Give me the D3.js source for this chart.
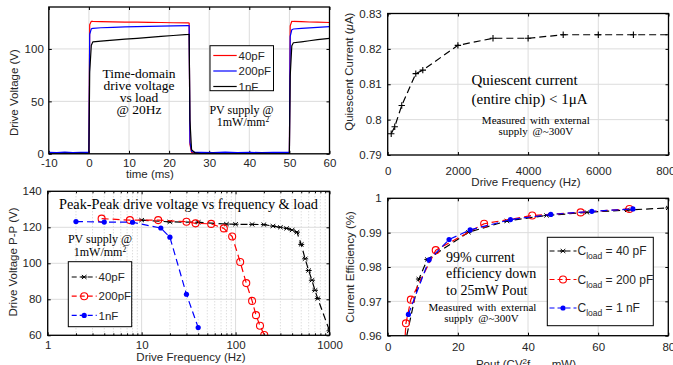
<!DOCTYPE html>
<html><head><meta charset="utf-8">
<script src="https://cdn.jsdelivr.net/npm/d3@7"></script>
<style>
body{margin:0;background:#fff;}
svg{display:block;}
</style></head><body>
<script>
// ---------- Panel 1: time-domain drive voltage ----------
const timeMs = [-10,-8,-6,-4,-2,0,0.2,0.6,1,3,6,9,12,15,18,21,24.8,25,25.2,25.6,26.5,28,31,34,37,40,43,46,49.8,50,50.2,50.6,51,53,55,57,60];
const v40pF  = [0.8,0.5,1.1,0.6,0.9,0.8,123,126.3,126.2,126,125.8,125.6,125.5,125.3,125.2,125,124.8,124.7,9,1.3,0.5,0.7,0.3,0.8,0.5,0.6,0.4,0.7,0.6,0.7,122,126.4,126.2,126,125.7,125.5,125.2];
const v200pF = [1.4,1.1,1.6,1.2,1.5,1.4,114,119.2,119.7,120.2,120.6,121,121.3,121.6,121.8,122,122.2,122.2,11,2.2,1.3,1.5,1.1,1.6,1.2,1.4,1.1,1.5,1.3,1.4,112,118.3,119,119.6,120.1,120.6,121.2];
const v1nF   = [0.3,0,0.5,0.2,0.4,0.3,78,103.5,106.8,107.5,108.4,109.3,110.1,111,111.9,112.8,113.9,114,32,4,0.8,0.2,0.4,0,0.3,0.1,0.4,0.2,0.3,0.3,74,103,105.9,106.8,107.8,108.8,110.1];
const p1XTicks = [-10,0,10,20,30,40,50,60];
const p1YTicks = [0,50,100];

// ---------- Panel 2: quiescent current ----------
const qFreq    = [100,200,400,800,1000,2000,3000,4000,5000,6000,7000,8000];
const qCurrent = [0.796,0.798,0.804,0.813,0.814,0.821,0.823,0.823,0.824,0.824,0.824,0.824];
const p2XTicks = [0,2000,4000,6000,8000];
const p2YTicks = [0.79,0.8,0.81,0.82,0.83];
const p2YLabels = ["0.79","0.8","0.81","0.82","0.83"];

// ---------- Panel 3: peak-peak voltage vs frequency ----------
const ppFreq40 = [10,20,40,80,100,150,200,250,300,350,400,450,500,550,600,650,700,750,1000];
const ppV40    = [124,123,122.8,121.8,121.7,121.6,121.5,120.7,120,119.4,118.5,117.3,110.5,102.5,96,90.6,85,80.4,62.5];
const ppFreq200 = [3.75,7.5,15,30,37.5,55,75,92,112,130,150,165,182,202];
const ppV200    = [124.8,124,124,123.1,122.2,121.9,119.4,114.9,100.7,89,79.1,71.2,65.3,60.2];
const ppFreq1n = [2,4,8,16,20,30,40];
const ppV1n    = [123.2,122.9,122.8,119.6,114.5,82.8,64.3];
const p3XTicks = [1,10,100,1000];
const p3YTicks = [60,80,100,120,140];

// ---------- Panel 4: current efficiency ----------
const effP40  = [4.8,8.9,11.3,23,34,45.3,56.8,68.3,80];
const eff40   = [0.957,0.9765,0.9822,0.9901,0.9934,0.995,0.9959,0.9966,0.9972];
const effP200 = [4.8,5.2,6.6,13.7,27.5,41.2,55,68.9];
const eff200  = [0.957,0.9636,0.9705,0.9849,0.9926,0.995,0.9959,0.9969];
const effP1n  = [5.9,11.8,17.5,23.5,35,46.5,58.2,69.9];
const eff1n   = [0.9662,0.9821,0.988,0.9908,0.9938,0.9953,0.9962,0.9969];
const p4XTicks = [0,20,40,60,80];
const p4YTicks = [0.96,0.97,0.98,0.99,1];
const p4YLabels = ["0.96","0.97","0.98","0.99","1"];

// ---------- drawing ----------
const SANS = '"Liberation Sans", Arial, Helvetica, sans-serif';
const SERIF = '"Liberation Serif", "Times New Roman", serif';
const INK = "#262626", GRID = "#dcdcdc";
const svg = d3.select("body").append("svg").attr("width",673).attr("height",365);
let clipId = 0;

function panel(o){
  const g = svg.append("g");
  const [xa,xb] = o.x.range(), [yb,ya] = o.y.range();
  const grid = g.append("g").attr("fill","none");
  if (o.minorX) {
    grid.selectAll(".mx").data(o.minorX).join("line")
      .attr("x1",d=>o.x(d)).attr("x2",d=>o.x(d)).attr("y1",yb).attr("y2",ya)
      .attr("stroke","#c4c4c4").attr("stroke-width",0.8).attr("stroke-dasharray","1,2");
  }
  grid.selectAll(".gx").data(o.xTicks).join("line")
    .attr("x1",d=>o.x(d)).attr("x2",d=>o.x(d)).attr("y1",yb).attr("y2",ya)
    .attr("stroke",GRID).attr("stroke-width",1);
  grid.selectAll(".gy").data(o.yTicks).join("line")
    .attr("y1",d=>o.y(d)).attr("y2",d=>o.y(d)).attr("x1",xa).attr("x2",xb)
    .attr("stroke",GRID).attr("stroke-width",1);

  const style = s => { s.select(".domain").remove();
    s.selectAll("text").attr("font-family",SANS).attr("font-size","11.5px").attr("fill",INK);
    s.selectAll("line").attr("stroke","#000"); };
  g.append("g").attr("transform",`translate(0,${yb})`)
    .call(d3.axisBottom(o.x).tickValues(o.xTicks).tickFormat(o.xFmt||(d=>d)).tickSizeInner(-3).tickSizeOuter(0).tickPadding(o.xPad)).call(style);
  g.append("g").attr("transform",`translate(0,${ya})`)
    .call(d3.axisTop(o.x).tickValues(o.xTicks).tickFormat(()=>"").tickSizeInner(-3).tickSizeOuter(0)).call(style);
  g.append("g").attr("transform",`translate(${xa},0)`)
    .call(d3.axisLeft(o.y).tickValues(o.yTicks).tickFormat(o.yFmt||(d=>d)).tickSizeInner(-3).tickSizeOuter(0).tickPadding(o.yPad)).call(style);
  g.append("g").attr("transform",`translate(${xb},0)`)
    .call(d3.axisRight(o.y).tickValues(o.yTicks).tickFormat(()=>"").tickSizeInner(-3).tickSizeOuter(0)).call(style);
  if (o.minorX) {
    g.append("g").attr("transform",`translate(0,${yb})`)
      .call(d3.axisBottom(o.x).tickValues(o.minorX).tickFormat(()=>"").tickSizeInner(-2).tickSizeOuter(0)).call(style);
    g.append("g").attr("transform",`translate(0,${ya})`)
      .call(d3.axisTop(o.x).tickValues(o.minorX).tickFormat(()=>"").tickSizeInner(-2).tickSizeOuter(0)).call(style);
  }
  const id = "clip"+(clipId++);
  svg.append("clipPath").attr("id",id).append("rect")
    .attr("x",xa).attr("y",ya).attr("width",xb-xa).attr("height",yb-ya);
  const plot = g.append("g").attr("clip-path",`url(#${id})`);
  g.append("rect").attr("x",xa).attr("y",ya).attr("width",xb-xa).attr("height",yb-ya)
    .attr("fill","none").attr("stroke","#000").attr("stroke-width",1.3);
  return {g, plot, overlay: g.append("g")};
}

function series(p, x, y, xs, ys, color, dash, marker){
  const pts = xs.map((d,i)=>[d, ys[i]]);
  p.plot.append("path").datum(pts)
    .attr("d", d3.line().x(d=>x(d[0])).y(d=>y(d[1])))
    .attr("fill","none").attr("stroke",color).attr("stroke-width",1.2)
    .attr("stroke-dasharray",dash||null).attr("stroke-linejoin","round");
  if (marker) {
    p.plot.selectAll(null).data(pts).join("g")
      .attr("transform",d=>`translate(${x(d[0])},${y(d[1])})`)
      .each(function(){ drawMarker(d3.select(this), marker, color); });
  }
}
function drawMarker(s, m, color){
  if (m==="plus") s.append("path").attr("d","M-3.2,0H3.2M0,-3.2V3.2").attr("stroke",color).attr("stroke-width",1.1);
  else if (m==="star") s.append("path").attr("d","M-2.3,-2L2.3,2M-2.3,2L2.3,-2M-3,0H3").attr("stroke",color).attr("stroke-width",1);
  else if (m==="circle") s.append("circle").attr("r",3.5).attr("fill","none").attr("stroke",color).attr("stroke-width",1.1);
  else if (m==="dot") s.append("circle").attr("r",2.6).attr("fill",color);
}
function txt(sel, x, y, str, size, family, anchor){
  return sel.append("text").attr("x",x).attr("y",y).attr("font-size",size+"px")
    .attr("font-family",family).attr("text-anchor",anchor||"middle").attr("fill",family===SERIF?"#000":INK).text(str);
}
function ylabel(x, y, cb){
  const t = svg.append("text").attr("transform",`translate(${x},${y}) rotate(-90)`)
    .attr("text-anchor","middle").attr("dy","0.35em").attr("font-family",SANS).attr("font-size","11.5px").attr("fill",INK);
  cb(t);
}
function supText(sel, x, y, base, sup, size){
  const t = txt(sel, x, y, base, size, SERIF);
  t.append("tspan").attr("dy","-4").attr("font-size","7.5px").text(sup);
  return t;
}

// ===== Panel 1 =====
const x1 = d3.scaleLinear().domain([-10,60]).range([48.8,329.5]);
const y1 = d3.scaleLinear().domain([0,140]).range([153.8,7]);
const P1 = panel({x:x1,y:y1,xTicks:p1XTicks,yTicks:p1YTicks,xPad:5,yPad:5});
series(P1,x1,y1,timeMs,v40pF,"#ff0000");
series(P1,x1,y1,timeMs,v200pF,"#0000ff");
series(P1,x1,y1,timeMs,v1nF,"#000000");
ylabel(14,92.6,t=>t.text("Drive Voltage (V)"));
txt(svg,150,177.5,"time (ms)",11.5,SANS);
["Time-domain","drive voltage","vs load","@ 20Hz"].forEach((s,i)=>txt(P1.overlay,139,77.5+i*12,s,13.5,SERIF));
txt(P1.overlay,241.5,114,"PV supply @",12,SERIF);
supText(P1.overlay,243,125.5,"1mW/mm","2",12);
{ const lg = P1.overlay;
  lg.append("rect").attr("x",210).attr("y",45.7).attr("width",63.5).attr("height",45).attr("fill","#fff").attr("stroke","#000").attr("stroke-width",1);
  [["40pF","#ff0000"],["200pF","#0000ff"],["1nF","#000000"]].forEach(([l,c],i)=>{
    const yy = 55.5 + i*15.5;
    lg.append("line").attr("x1",213.3).attr("x2",236.7).attr("y1",yy).attr("y2",yy).attr("stroke",c).attr("stroke-width",1.2);
    txt(lg,238.5,yy,l,11.5,SANS,"start").attr("dy","0.36em");
  });
}

// ===== Panel 2 =====
const x2 = d3.scaleLinear().domain([0,8000]).range([387.7,668.5]);
const y2 = d3.scaleLinear().domain([0.79,0.83]).range([155,13.5]);
const P2 = panel({x:x2,y:y2,xTicks:p2XTicks,yTicks:p2YTicks,xPad:12,yPad:6,yFmt:(d,i)=>p2YLabels[i]});
series(P2,x2,y2,qFreq,qCurrent,"#000","7,4","plus");
ylabel(349,71.7,t=>{ t.append("tspan").text("Quiescent Current ("); t.append("tspan").attr("font-style","italic").text("\u03BC"); t.append("tspan").text("A)"); });
txt(svg,526,186,"Drive Frequency (Hz)",11.5,SANS);
txt(P2.overlay,471.5,85,"Quiescent  current",15,SERIF,"start");
txt(P2.overlay,471.5,103.5,"(entire chip) < 1\u03BCA",15,SERIF,"start");
txt(P2.overlay,535.8,124,"Measured with external",11,SERIF).attr("word-spacing","2px");
txt(P2.overlay,535.8,134.5,"supply @~300V",11,SERIF).attr("word-spacing","2px");

// ===== Panel 3 =====
const x3 = d3.scaleLog().domain([1,1000]).range([47.7,329.5]);
const y3 = d3.scaleLinear().domain([60,140]).range([335.3,191.3]);
const minor3 = x3.ticks().filter(d=>!p3XTicks.includes(d));
const P3 = panel({x:x3,y:y3,xTicks:p3XTicks,yTicks:p3YTicks,xPad:5.5,yPad:6,minorX:minor3,xFmt:d=>d});
series(P3,x3,y3,ppFreq40,ppV40,"#000","7,4","star");
series(P3,x3,y3,ppFreq200,ppV200,"#ff0000","7,4","circle");
series(P3,x3,y3,ppFreq1n,ppV1n,"#0000ff","7,4","dot");
ylabel(12.5,262,t=>t.text("Drive Voltage P-P (V)"));
txt(svg,191,361,"Drive Frequency (Hz)",11.5,SANS);
txt(P3.overlay,188.5,208.5,"Peak-Peak drive voltage vs frequency & load",14.3,SERIF);
txt(P3.overlay,100,243,"PV supply @",12,SERIF);
supText(P3.overlay,100,255.5,"1mW/mm","2",12);
{ const lg = P3.overlay;
  lg.append("rect").attr("x",68.3).attr("y",261.7).attr("width",63.4).attr("height",65).attr("fill","#fff").attr("stroke","#000").attr("stroke-width",1);
  [["40pF","#000000","star"],["200pF","#ff0000","circle"],["1nF","#0000ff","dot"]].forEach(([l,c,m],i)=>{
    const yy = 277 + i*19.2;
    lg.append("line").attr("x1",71.7).attr("x2",96.7).attr("y1",yy).attr("y2",yy).attr("stroke",c).attr("stroke-width",1.2).attr("stroke-dasharray","5,3");
    drawMarker(lg.append("g").attr("transform",`translate(84.2,${yy})`),m,c);
    txt(lg,98.5,yy,l,11.5,SANS,"start").attr("dy","0.36em");
  });
}

// ===== Panel 4 =====
const x4 = d3.scaleLinear().domain([0,80]).range([387.7,668.3]);
const y4 = d3.scaleLinear().domain([0.96,1]).range([335.7,198.3]);
const P4 = panel({x:x4,y:y4,xTicks:p4XTicks,yTicks:p4YTicks,xPad:7,yPad:6,yFmt:(d,i)=>p4YLabels[i]});
series(P4,x4,y4,effP40,eff40,"#000","7,4","star");
series(P4,x4,y4,effP200,eff200,"#ff0000","7,4","circle");
series(P4,x4,y4,effP1n,eff1n,"#0000ff","7,4","dot");
ylabel(350,267,t=>t.text("Current Efficiency (%)"));
{ const t = txt(svg,526,368,"Pout (CV",11.5,SANS);
  t.append("tspan").attr("dy","-4").attr("font-size","8px").text("2");
  t.append("tspan").attr("dy","4").text("f");
  t.append("tspan").attr("dy","3").attr("font-size","8px").text("load");
  t.append("tspan").attr("dy","-3").text(", mW)"); }
["99% current","efficiency down","to 25mW Pout"].forEach((s,i)=>txt(P4.overlay,446,261.5+i*16.6,s,14,SERIF,"start"));
txt(P4.overlay,482.5,310.7,"Measured with external",11,SERIF).attr("word-spacing","2px");
txt(P4.overlay,481.5,321.8,"supply @~300V",11,SERIF).attr("word-spacing","2px");
{ const lg = P4.overlay;
  lg.append("rect").attr("x",547.3).attr("y",237.3).attr("width",106).attr("height",88.4).attr("fill","#fff").attr("stroke","#000").attr("stroke-width",1);
  [["40 pF","#000000","star"],["200 pF","#ff0000","circle"],["1 nF","#0000ff","dot"]].forEach(([l,c,m],i)=>{
    const yy = 251 + i*28.5;
    lg.append("line").attr("x1",549.5).attr("x2",576.5).attr("y1",yy).attr("y2",yy).attr("stroke",c).attr("stroke-width",1.2).attr("stroke-dasharray","5,3");
    drawMarker(lg.append("g").attr("transform",`translate(563,${yy})`),m,c);
    const t = txt(lg,577.5,yy+4,"C",12,SANS,"start");
    t.append("tspan").attr("dy","4").attr("font-size","8.5px").text("load");
    t.append("tspan").attr("dy","-4").text(" = "+l);
  });
}
</script>
</body></html>
